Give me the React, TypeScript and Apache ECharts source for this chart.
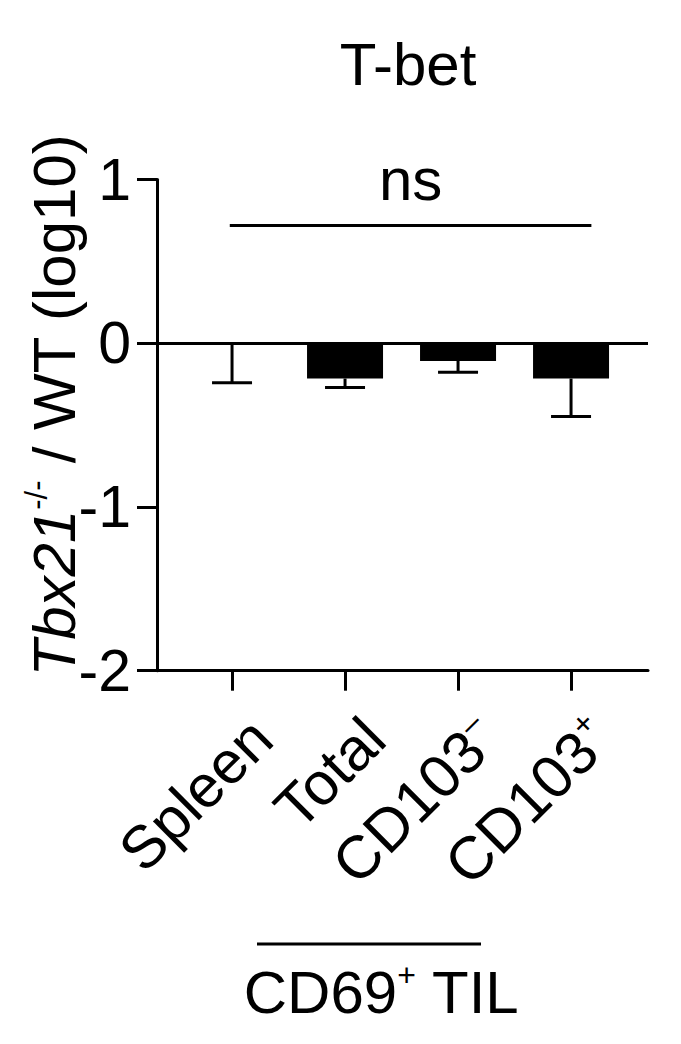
import { useEffect, useRef } from "react";
import * as echarts from "echarts";

const categories = ["Spleen", "Total", "CD103−", "CD103+"];
const catLabels = ["{n|Spleen}", "{n|Total}", "{n|CD103}{s|–}", "{n|CD103}{s|+}"];
const positions = [0, 1, 2, 3];
const means = [0, -0.216, -0.108, -0.216];
const lows = [-0.241, -0.271, -0.177, -0.448];
const yTicks = [-2, -1, 0, 1];
const sigY = 0.72;
const sigFrom = -0.02;
const sigTo = 3.18;

const FONT = "Liberation Sans, Arial, Helvetica, sans-serif";
const INK = "#000";

function App() {
  const chartRef = useRef<HTMLDivElement>(null);

  useEffect(() => {
    if (!chartRef.current) return;
    const chart = echarts.init(chartRef.current, null, { renderer: "svg" });

    const barData = positions.map((p, i) => [p, means[i]]);
    const errData = positions.map((p, i) => [p, means[i], lows[i]]);

    const option = {
      animation: false,
      grid: {
        left: 157,
        right: 33,
        top: 179.5,
        bottom: 373.3,
        containLabel: false,
        outerBoundsMode: "none",
      },
      xAxis: {
        type: "value",
        min: -0.664,
        max: 3.681,
        splitLine: { show: false },
        axisLine: { onZero: false, lineStyle: { color: INK, width: 3 } },
        axisTick: {
          customValues: positions,
          length: 20,
          lineStyle: { color: INK, width: 3 },
        },
        axisLabel: {
          customValues: positions,
          rotate: 45,
          margin: 28,
          padding: [10, 0, 0, 0],
          verticalAlign: "top",
          formatter: (v: number) => catLabels[Math.round(v)] ?? "",
          rich: {
            n: { fontSize: 60, fontFamily: FONT, color: INK, lineHeight: 64 },
            s: { fontSize: 32, fontFamily: FONT, color: INK, verticalAlign: "top", lineHeight: 30 },
          },
        },
      },
      yAxis: {
        type: "value",
        min: yTicks[0],
        max: yTicks[yTicks.length - 1],
        interval: 1,
        splitLine: { show: false },
        axisLine: { show: true, onZero: false, lineStyle: { color: INK, width: 3 } },
        axisTick: { show: true, length: 20, lineStyle: { color: INK, width: 3 } },
        axisLabel: {
          margin: 26,
          fontSize: 59,
          fontFamily: FONT,
          color: INK,
        },
        name: "{i|Tbx21}{s|-/-}{n| / WT (log10)}",
        nameLocation: "middle",
        nameRotate: 90,
        nameGap: 70,
        nameMoveOverlap: false,
        nameTextStyle: {
          fontSize: 60,
          fontFamily: FONT,
          color: INK,
          padding: [0, 0, 0, 40],
          rich: {
            i: { fontSize: 60, fontFamily: FONT, color: INK, fontStyle: "italic", lineHeight: 66 },
            s: { fontSize: 31, fontFamily: FONT, color: INK, verticalAlign: "top", lineHeight: 30 },
            n: { fontSize: 60, fontFamily: FONT, color: INK, lineHeight: 66 },
          },
        },
      },
      series: [
        {
          name: "ratio",
          type: "bar",
          data: barData,
          barWidth: 76,
          itemStyle: { color: INK },
          markLine: {
            silent: true,
            symbol: ["none", "none"],
            label: { show: false },
            lineStyle: { color: INK, width: 3, type: "solid" },
            data: [{ yAxis: 0 }],
          },
        },
        {
          name: "sem",
          type: "custom",
          data: errData,
          encode: { x: 0, y: [1, 2] },
          renderItem: (params: any, api: any) => {
            const x = api.value(0);
            const top = api.coord([x, api.value(1)]);
            const bot = api.coord([x, api.value(2)]);
            const cap = 20;
            return {
              type: "group",
              children: [
                {
                  type: "line",
                  shape: { x1: top[0], y1: top[1], x2: bot[0], y2: bot[1] },
                  style: { stroke: INK, lineWidth: 3 },
                },
                {
                  type: "line",
                  shape: { x1: bot[0] - cap, y1: bot[1], x2: bot[0] + cap, y2: bot[1] },
                  style: { stroke: INK, lineWidth: 3 },
                },
              ],
            };
          },
          markLine: {
            silent: true,
            symbol: ["none", "none"],
            lineStyle: { color: INK, width: 3, type: "solid" },
            label: {
              show: true,
              position: "middle",
              formatter: "ns",
              fontSize: 60,
              fontFamily: FONT,
              color: INK,
              distance: 16,
            },
            data: [[{ coord: [sigFrom, sigY] }, { coord: [sigTo, sigY] }]],
          },
        },
      ],
      graphic: [
        {
          type: "text",
          x: 408,
          y: 64,
          style: {
            text: "T-bet",
            font: `60px ${FONT}`,
            fill: INK,
            align: "center",
            verticalAlign: "middle",
          },
        },
        {
          type: "line",
          shape: { x1: 257, y1: 944, x2: 481, y2: 944 },
          style: { stroke: INK, lineWidth: 3 },
        },
        {
          type: "text",
          x: 381.5,
          y: 992,
          style: {
            text: "{n|CD69}{s|+}{n| TIL}",
            fill: INK,
            align: "center",
            verticalAlign: "middle",
            rich: {
              n: { fontSize: 60, fontFamily: FONT, fill: INK, lineHeight: 66 },
              s: { fontSize: 32, fontFamily: FONT, fill: INK, verticalAlign: "top", lineHeight: 30 },
            },
          },
        },
      ],
    };

    chart.setOption(option);

    return () => {
      chart.dispose();
    };
  }, []);

  return (
    <div
      ref={chartRef}
      style={{ position: "absolute", left: 0, top: 0, width: 681, height: 1044 }}
    />
  );
}

export default App;
